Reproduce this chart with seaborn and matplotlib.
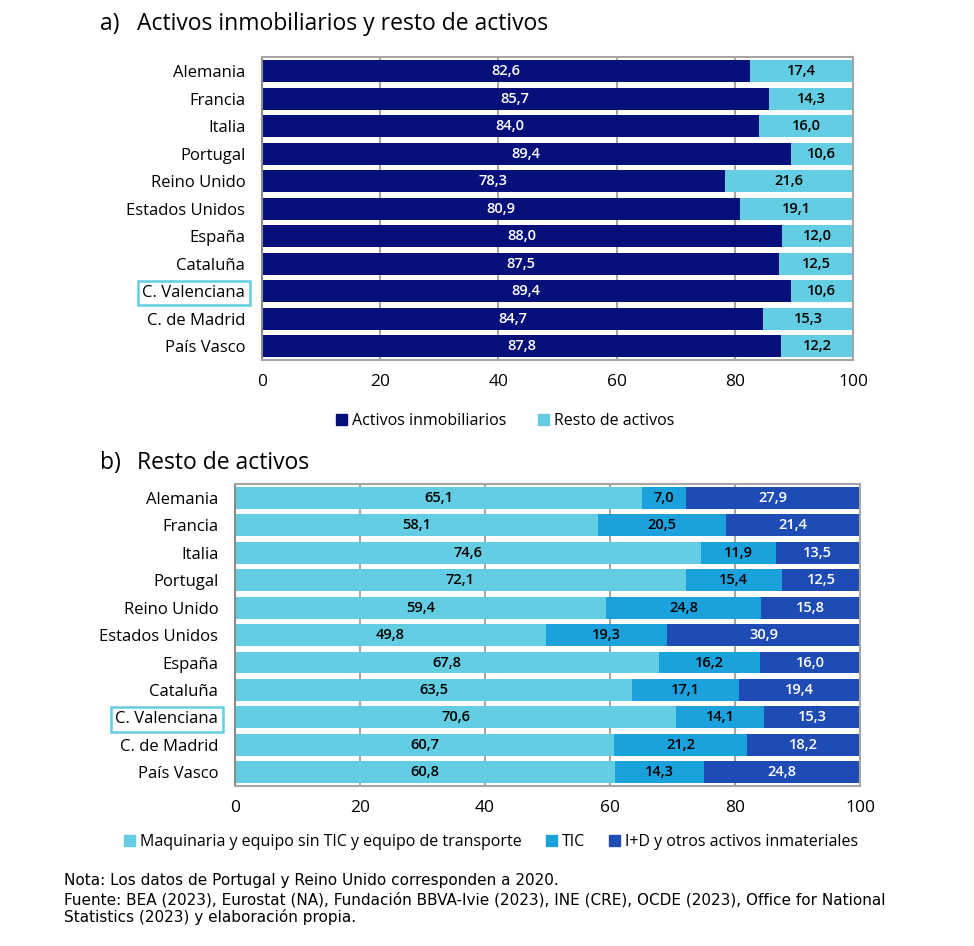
import matplotlib
matplotlib.use("Agg")
import matplotlib.pyplot as plt
from matplotlib.patches import Patch
import pandas as pd
import seaborn as sns

# Data
regiones = ["Alemania", "Francia", "Italia", "Portugal", "Reino Unido", "Estados Unidos",
            "España", "Cataluña", "C. Valenciana", "C. de Madrid", "País Vasco"]

inmobiliarios = [82.6, 85.7, 84.0, 89.4, 78.3, 80.9, 88.0, 87.5, 89.4, 84.7, 87.8]
resto = [17.4, 14.3, 16.0, 10.6, 21.6, 19.1, 12.0, 12.5, 10.6, 15.3, 12.2]

maquinaria = [65.1, 58.1, 74.6, 72.1, 59.4, 49.8, 67.8, 63.5, 70.6, 60.7, 60.8]
tic = [7.0, 20.5, 11.9, 15.4, 24.8, 19.3, 16.2, 17.1, 14.1, 21.2, 14.3]
id_intang = [27.9, 21.4, 13.5, 12.5, 15.8, 30.9, 16.0, 19.4, 15.3, 18.2, 24.8]

x_ticks = [0, 20, 40, 60, 80, 100]

NAVY = "#070F7A"
CYAN = "#63CDE3"
BLUE_TIC = "#1BA1DC"
BLUE_ID = "#1F4BB5"
GRID = "#A6A6A6"

sns.set_theme(style="white")
plt.rcParams["font.family"] = ["Open Sans", "DejaVu Sans"]
plt.rcParams["text.color"] = "black"


def stacked(ax, series, colors, text_colors):
    df = pd.DataFrame({"region": regiones})
    cum = [0.0] * len(regiones)
    cums = []
    for s in series:
        cum = [c + v for c, v in zip(cum, s)]
        cums.append(cum)
    # draw from the longest cumulative bar down so smaller ones sit on top
    for k in range(len(series) - 1, -1, -1):
        df["x"] = cums[k]
        sns.barplot(data=df, x="x", y="region", orient="h", color=colors[k],
                    width=0.8, saturation=1, linewidth=0, ax=ax, zorder=2)
    for k, s in enumerate(series):
        for i, v in enumerate(s):
            centre = cums[k][i] - v / 2
            ax.text(centre, i, f"{v:.1f}".replace(".", ","), ha="center", va="center",
                    fontsize=10.5, fontweight="semibold", color=text_colors[k], zorder=5)
    ax.set_xlim(0, 100)
    ax.set_xticks(x_ticks)
    ax.set_xlabel("")
    ax.set_ylabel("")
    ax.xaxis.grid(True, color=GRID, lw=1.5, zorder=0)
    ax.set_axisbelow(True)
    for sp in ax.spines.values():
        sp.set_color(GRID)
        sp.set_linewidth(1.5)
    ax.spines["left"].set_color("#8C8C8C")
    ax.tick_params(axis="x", labelsize=12.5, length=0, pad=10, colors="black")
    ax.tick_params(axis="y", labelsize=12, length=0, pad=12, colors="black")
    for lab in ax.get_yticklabels():
        if lab.get_text() == "C. Valenciana":
            lab.set_bbox(dict(boxstyle="square,pad=0.25", fc="none", ec=CYAN, lw=1.8))


fig = plt.figure(figsize=(9.74, 9.46), dpi=100)

ax1 = fig.add_axes([0.269, 0.6195, 0.607, 0.320])
stacked(ax1, [inmobiliarios, resto], [NAVY, CYAN], ["white", "black"])

ax2 = fig.add_axes([0.2413, 0.1691, 0.6417, 0.3192])
stacked(ax2, [maquinaria, tic, id_intang], [CYAN, BLUE_TIC, BLUE_ID], ["black", "black", "white"])

fig.text(100 / 974, 1 - 24 / 946, "a)", fontsize=16.5, va="center")
fig.text(137 / 974, 1 - 24 / 946, "Activos inmobiliarios y resto de activos", fontsize=16.5, va="center")
fig.text(100 / 974, 1 - 463 / 946, "b)", fontsize=16.5, va="center")
fig.text(137 / 974, 1 - 463 / 946, "Resto de activos", fontsize=16.5, va="center")

leg_kw = dict(frameon=False, fontsize=11.5, handlelength=0.7, handleheight=0.7,
              handletextpad=0.3, ncol=3, loc="center")
fig.legend(handles=[Patch(color=NAVY, label="Activos inmobiliarios"),
                    Patch(color=CYAN, label="Resto de activos")],
           bbox_to_anchor=(505 / 974, 1 - 421 / 946), columnspacing=2.0, **leg_kw)
fig.legend(handles=[Patch(color=CYAN, label="Maquinaria y equipo sin TIC y equipo de transporte"),
                    Patch(color=BLUE_TIC, label="TIC"),
                    Patch(color=BLUE_ID, label="I+D y otros activos inmateriales")],
           bbox_to_anchor=(491 / 974, 1 - 842 / 946), columnspacing=1.5, **leg_kw)

foot = dict(fontsize=11, va="center", family=["Liberation Sans Narrow", "DejaVu Sans"])
fig.text(64 / 974, 1 - 880 / 946, "Nota: Los datos de Portugal y Reino Unido corresponden a 2020.", **foot)
fig.text(64 / 974, 1 - 900 / 946,
         "Fuente: BEA (2023), Eurostat (NA), Fundación BBVA-Ivie (2023), INE (CRE), OCDE (2023), Office for National",
         **foot)
fig.text(64 / 974, 1 - 917 / 946, "Statistics (2023) y elaboración propia.", **foot)

fig.savefig("out.png", dpi=100)
